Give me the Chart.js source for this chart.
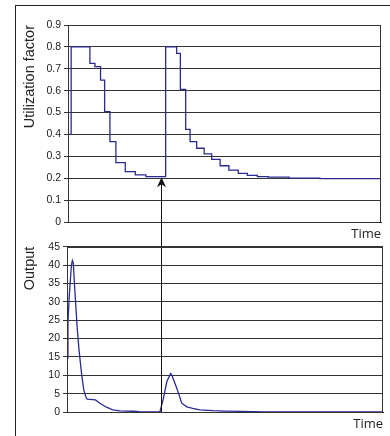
<!DOCTYPE html>
<html>
<head>
<meta charset="utf-8">
<script src="https://cdn.jsdelivr.net/npm/chart.js@4.4.0/dist/chart.umd.min.js"></script>
<style>
  html, body { margin: 0; padding: 0; background: #fff; overflow: hidden; }
  #wrap { position: relative; width: 390px; height: 436px; overflow: hidden; }
  #frame { position: absolute; left: 15px; top: 5px; width: 400px; height: 440px;
           border-left: 1px solid #222; border-top: 1px solid #222; }
  canvas { position: absolute; left: 0; }
  #top { top: 0; }
  #bottom { top: 232px; }
</style>
</head>
<body>
<div id="wrap">
  <div id="frame"></div>
  <canvas id="top" width="390" height="242"></canvas>
  <canvas id="bottom" width="390" height="204"></canvas>
</div>
<script>
// upper panel: utilization factor (step line)
var timeUtil = [0, 1.0, 7.0, 8.6, 10.4, 11.7, 13.4, 15.3, 18.3, 21.5, 24.9,
  31.2, 34.7, 35.9, 37.6, 39.0, 41.1, 43.5, 45.9, 48.6, 51.4, 54.4, 57.3, 60.5, 64.0, 70.6, 80.5, 100];
var utilization = [0.40, 0.80, 0.725, 0.71, 0.648, 0.504, 0.367, 0.271, 0.230, 0.215, 0.207,
  0.80, 0.77, 0.606, 0.423, 0.367, 0.337, 0.311, 0.286, 0.257, 0.237, 0.222, 0.213, 0.207, 0.205, 0.200, 0.198, 0.198];

// lower panel: output
var timeOutput = [0, 0.3, 0.7, 1.4, 1.7, 2.0, 2.4, 3.2, 3.8, 4.6, 5.3, 6.0, 6.4, 9.0, 10.4, 12.5, 14.5, 16.7, 20.8, 23.0, 29.4,
  30.4, 31.6, 32.8, 33.2, 34.3, 35.5, 36.3, 37.9, 39.8, 42.0, 46.2, 50.0, 58.8, 62.6, 100];
var output = [14.7, 24.2, 31.4, 40.0, 41.2, 40.5, 34.3, 23.2, 16.9, 10.5, 6.0, 4.0, 3.5, 3.3, 2.4, 1.3, 0.6, 0.3, 0.2, 0.1, 0,
  3.3, 8.3, 10.5, 10.0, 7.5, 4.6, 2.4, 1.4, 1.0, 0.6, 0.35, 0.25, 0.12, 0, 0];

var utilTicks = { min: 0, max: 0.9, step: 0.1 };
var outputTicks = { min: 0, max: 45, step: 5 };
var timeRange = { min: 0, max: 100 };

var arrowTime = 29.6;
var arrowLevel = 0.205;

var lineColor = '#2a2a92';
var ink = '#222';
var tickFont = { family: '"Liberation Sans", Arial, sans-serif', size: 10.5 };
var titleFont = { family: '"Liberation Sans", Arial, sans-serif', size: 14.5 };
var timeFont = { family: '"Open Sans", sans-serif', size: 13 };

function pairs(xs, ys) {
  return xs.map(function(x, i) { return { x: x, y: ys[i] }; });
}

var plotFrame = {
  id: 'plotFrame',
  afterDraw: function(chart) {
    var a = chart.chartArea, ctx = chart.ctx;
    ctx.save();
    ctx.strokeStyle = '#333';
    ctx.lineWidth = 1;
    ctx.strokeRect(Math.round(a.left) + 0.5, Math.round(a.top) + 0.5,
      Math.round(a.right - a.left) - 1, Math.round(a.bottom - a.top));
    ctx.restore();
  }
};

var arrowUp = {
  id: 'arrowUp',
  afterDatasetsDraw: function(chart) {
    var x = Math.round(chart.scales.x.getPixelForValue(arrowTime)) + 0.5;
    var tip = chart.scales.y.getPixelForValue(arrowLevel);
    var ctx = chart.ctx;
    ctx.save();
    ctx.strokeStyle = '#111';
    ctx.lineWidth = 1;
    ctx.beginPath();
    ctx.moveTo(x, chart.height);
    ctx.lineTo(x, tip + 6);
    ctx.stroke();
    ctx.fillStyle = '#111';
    ctx.beginPath();
    ctx.moveTo(x, tip);
    ctx.lineTo(x + 4.5, tip + 10);
    ctx.lineTo(x, tip + 7);
    ctx.lineTo(x - 4.5, tip + 10);
    ctx.closePath();
    ctx.fill();
    ctx.restore();
  }
};

var arrowShaft = {
  id: 'arrowShaft',
  afterDatasetsDraw: function(chart) {
    var x = Math.round(chart.scales.x.getPixelForValue(arrowTime)) + 0.5;
    var ctx = chart.ctx;
    ctx.save();
    ctx.strokeStyle = '#111';
    ctx.lineWidth = 1;
    ctx.beginPath();
    ctx.moveTo(x, 0);
    ctx.lineTo(x, chart.scales.y.getPixelForValue(0));
    ctx.stroke();
    ctx.restore();
  }
};

function panel(canvasId, times, values, ticks, yTitle, yWidth, xHeight, padding, titlePadBottom, stepped, extra) {
  return new Chart(document.getElementById(canvasId), {
    type: 'line',
    data: {
      datasets: [{
        data: pairs(times, values),
        borderColor: lineColor,
        borderWidth: 1.3,
        pointRadius: 0,
        fill: false,
        tension: 0,
        stepped: stepped
      }]
    },
    options: {
      responsive: false,
      animation: false,
      layout: { padding: padding },
      plugins: { legend: { display: false }, tooltip: { enabled: false } },
      scales: {
        x: {
          type: 'linear',
          min: timeRange.min,
          max: timeRange.max,
          ticks: { display: false },
          grid: { display: false },
          border: { display: true, color: ink, width: 1 },
          title: { display: true, text: 'Time', align: 'end', color: ink, font: timeFont,
                   padding: { top: 0, bottom: titlePadBottom } },
          afterFit: function(axis) { axis.height = xHeight; }
        },
        y: {
          min: ticks.min,
          max: ticks.max,
          ticks: { stepSize: ticks.step, color: ink, font: tickFont, padding: 3 },
          grid: { color: '#333', lineWidth: 1, tickLength: 4, drawTicks: true },
          border: { display: true, color: ink, width: 1 },
          title: { display: true, text: yTitle, align: 'end', color: ink, font: titleFont,
                   padding: { top: 21, bottom: 0 } },
          afterFit: function(axis) { axis.width = yWidth; }
        }
      }
    },
    plugins: [plotFrame, extra]
  });
}

window.onload = function() {
  panel('top', timeUtil, utilization, utilTicks, 'Utilization factor', 68, 20,
        { left: 0, top: 25, right: 9, bottom: 0 }, 0, 'before', arrowUp);
  panel('bottom', timeOutput, output, outputTicks, 'Output', 67, 24,
        { left: 0, top: 14.7, right: 7, bottom: 0 }, 4, false, arrowShaft);
};
</script>
</body>
</html>
